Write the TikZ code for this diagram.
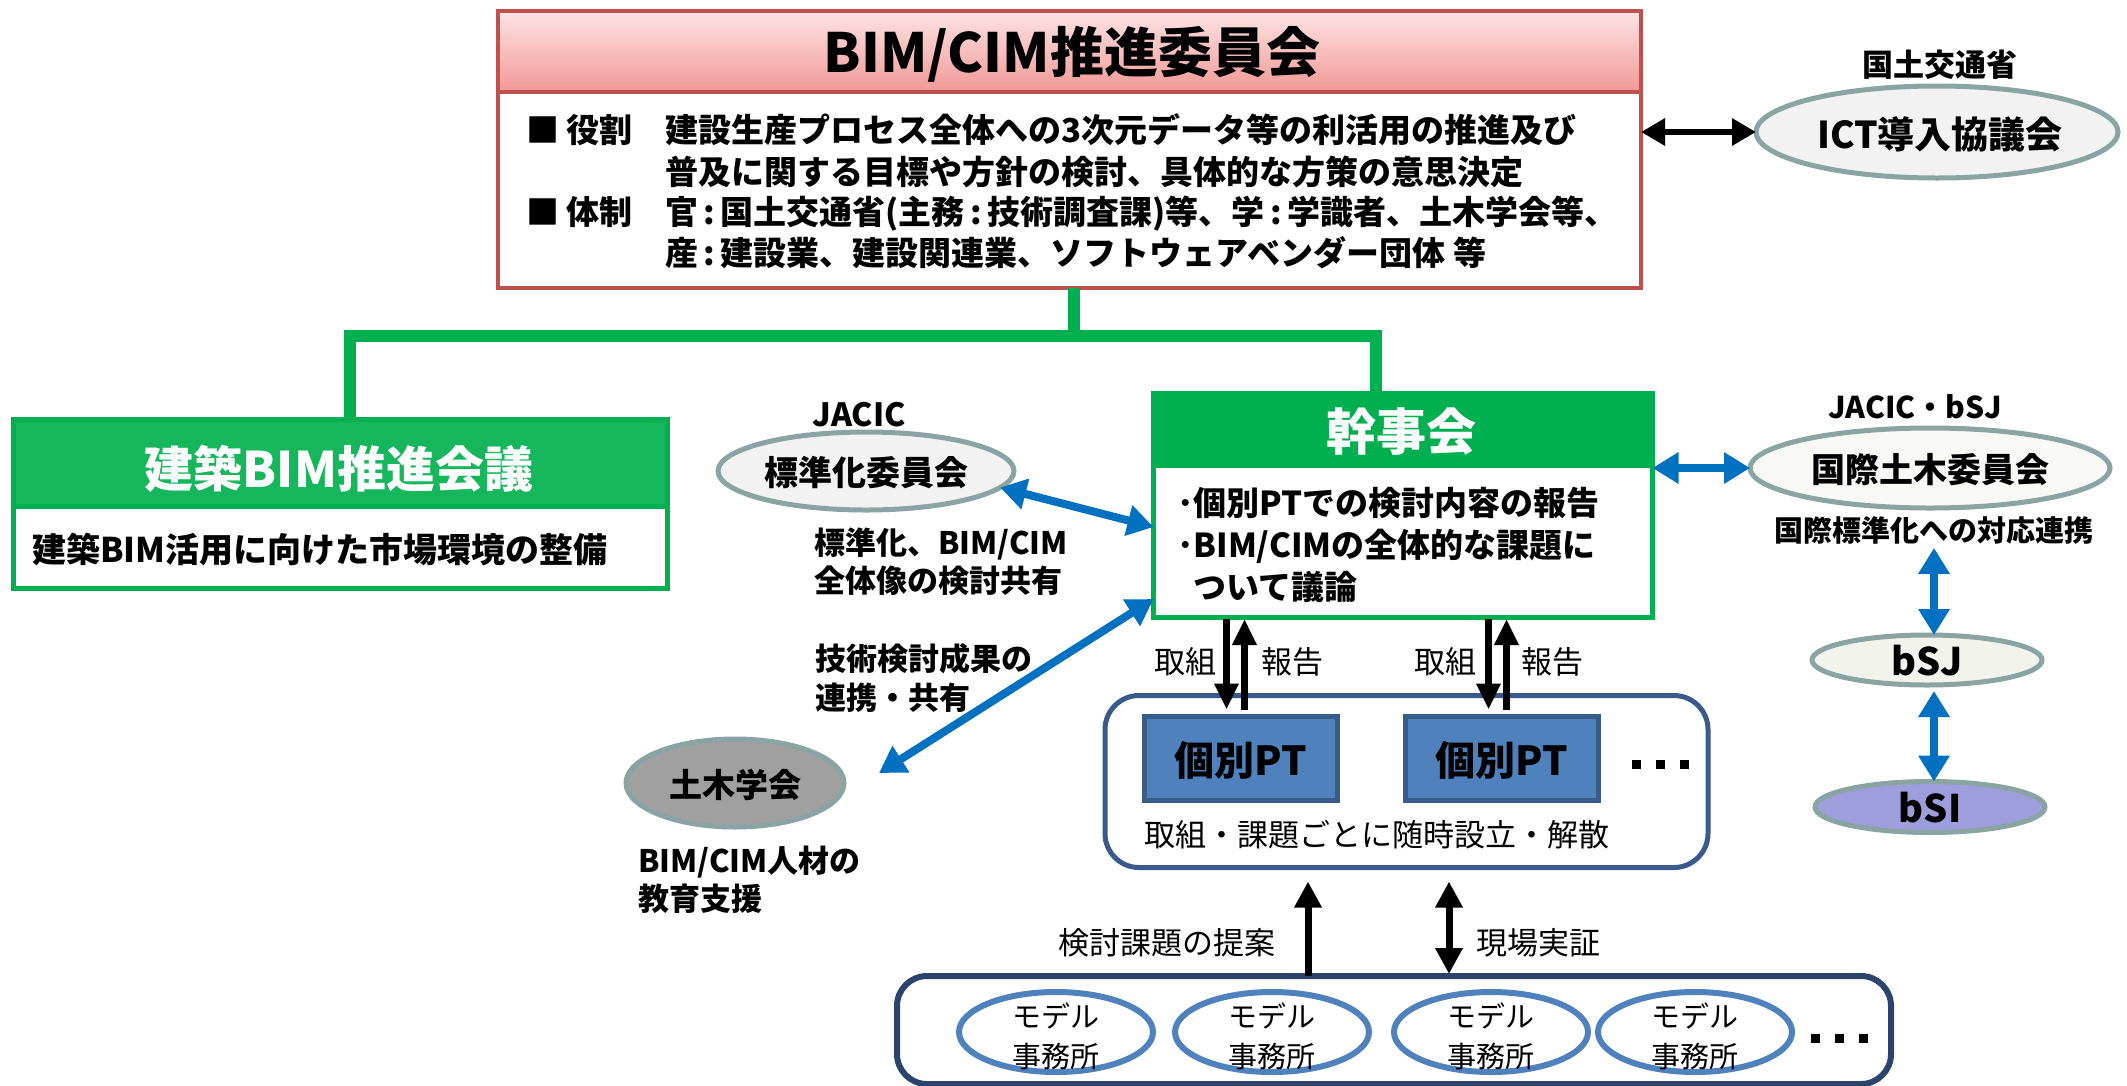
\documentclass[tikz,border=0pt]{standalone}
\usepackage{fontspec}
\setmainfont{Noto Sans CJK JP}
\usetikzlibrary{arrows.meta,shapes.geometric,calc}
\definecolor{cimred}{RGB}{192,80,77}
\definecolor{pinktop}{RGB}{253,228,228}
\definecolor{pinkbot}{RGB}{241,152,150}
\definecolor{grn}{RGB}{0,176,80}
\definecolor{grnfill}{RGB}{22,182,92}
\definecolor{ellgray}{RGB}{138,164,164}
\definecolor{ellfill}{RGB}{242,242,242}
\definecolor{kokfill}{RGB}{248,248,244}
\definecolor{bsjfill}{RGB}{243,243,237}
\definecolor{bsifill}{RGB}{158,158,220}
\definecolor{dobofill}{RGB}{160,160,160}
\definecolor{bluearr}{RGB}{0,112,192}
\definecolor{ptfill}{RGB}{79,129,189}
\definecolor{ptborder}{RGB}{56,93,138}
\definecolor{contborder}{RGB}{58,90,140}
\definecolor{navy}{RGB}{44,68,108}
\definecolor{modelblue}{RGB}{79,129,189}
\newcommand\fsz[2]{\fontsize{#1}{#2}\selectfont}
\begin{document}
\begin{tikzpicture}[x=1pt,y=-1pt,
  every node/.style={inner sep=0pt, outer sep=0pt},
  redbox/.style={rectangle, draw=cimred, line width=4pt},
  grnbox/.style={rectangle, draw=grn, line width=5pt},
  ell/.style={ellipse, draw=ellgray, line width=5pt},
  modell/.style={ellipse, draw=modelblue, line width=6pt, fill=white, minimum width=194pt, minimum height=80pt},
  grnline/.style={draw=grn, line width=12pt},
  blkdbl/.style={line width=6pt, arrows={Triangle[length=24pt,width=26pt]-Triangle[length=24pt,width=26pt]}},
  bluedbl/.style={draw=bluearr, line width=8pt, arrows={Triangle[length=26pt,width=30pt]-Triangle[length=26pt,width=30pt]}},
  blkv/.style={line width=7.5pt, arrows={-Triangle[length=26pt,width=23pt]}},
  blkup/.style={line width=7pt, arrows={-Triangle[length=26pt,width=26pt]}},
  blkupdbl/.style={line width=7pt, arrows={Triangle[length=26pt,width=26pt]-Triangle[length=26pt,width=26pt]}},
  tb/.style={font=\fsz{33}{40}\bfseries},
  lb/.style={font=\fsz{31}{38}\bfseries},
  rg/.style={font=\fsz{31}{38}},
  dotsq/.style={fill=black, minimum width=9pt, minimum height=9pt}
]
\useasboundingbox[fill=white] (0,0) rectangle (2127,1085);

% ---------- BIM/CIM committee ----------
\node[redbox, fill=white, minimum width=1143pt, minimum height=198pt] (cimb) at (1069.5,189) {};
\node[redbox, top color=pinktop, bottom color=pinkbot, minimum width=1143pt, minimum height=81pt] (cimh) at (1069.5,51.5) {};
\node[font=\fsz{54}{60}\bfseries] (cimt) at (1072,54) {BIM/CIM推進委員会};
\node[tb, anchor=base west] (role) at (526,142.5) {■\hspace{8pt}役割};
\node[tb, anchor=base west] (sys) at (526,224.5) {■\hspace{8pt}体制};
\node[tb, anchor=base west] (r1) at (665,142.5) {建設生産プロセス全体への3次元データ等の利活用の推進及び};
\node[tb, anchor=base west] (r2) at (665,184.5) {普及に関する目標や方針の検討、具体的な方策の意思決定};
\node[tb, anchor=base west] (r3) at (665,224.5) {官\,:\,国土交通省(主務\,:\,技術調査課)等、学\,:\,学識者、土木学会等、};
\node[tb, anchor=base west] (r4) at (665,265.5) {産\,:\,建設業、建設関連業、ソフトウェアベンダー団体 等};

% ---------- ICT ----------
\node[ell, fill=ellfill, minimum width=362pt, minimum height=92pt] (ict) at (1937,132) {};
\node[font=\fsz{37}{44}\bfseries] (ictt) at (1940,134) {ICT導入協議会};
\node[font=\fsz{31}{38}\bfseries] (mlit) at (1940,65) {国土交通省};
\draw[blkdbl] (cimb.east |- ict.west) -- (ict.west);

% ---------- green tree ----------
\node[grnbox, fill=grnfill, minimum width=654pt, minimum height=88pt] (kenh) at (340,463) {};
\node[grnbox, fill=white, minimum width=654pt, minimum height=82pt] (kenb) at (340,547) {};
\node[font=\fsz{49}{56}\bfseries, text=white] (kent) at (339,469) {建築BIM推進会議};
\node[font=\fsz{34}{40}\bfseries] (kenbt) at (320,549) {建築BIM活用に向けた市場環境の整備};

\node[grnbox, fill=white, minimum width=499pt, minimum height=152pt] (kanb) at (1403,541) {};
\node[grnbox, fill=grn, minimum width=499pt, minimum height=72pt] (kanh) at (1403,429) {};
\node[font=\fsz{50}{56}\bfseries, text=white] (kant) at (1401,432) {幹事会};
\node[tb, anchor=base west] (k1) at (1177,515.5) {･個別PTでの検討内容の報告};
\node[tb, anchor=base west] (k2) at (1177,557.5) {･BIM/CIMの全体的な課題に};
\node[tb, anchor=base west] (k3) at (1193,599.5) {ついて議論};

\coordinate (gj) at ($(cimb.south)+(4,48)$);
\draw[grnline] ([xshift=4pt]cimb.south) -- (gj);
\draw[grnline] ($(kenh.north)+(10,0)$) |- (gj) -| ($(kanh.north)+(-27,0)$);

% ---------- JACIC standardisation ----------
\node[ell, fill=ellfill, minimum width=296pt, minimum height=78pt] (hyo) at (866,471) {};
\node[font=\fsz{34}{40}\bfseries] (hyot) at (866,473) {標準化委員会};
\node[font=\fsz{32}{38}\bfseries] (jacic) at (859,415) {JACIC};
\draw[bluedbl] (hyo.-7) -- ($(kanb.west)+(0,-14)$);
\node[lb, anchor=base west] (s1) at (814,554) {標準化、BIM/CIM};
\node[lb, anchor=base west] (s2) at (814,592) {全体像の検討共有};

% ---------- JSCE ----------
\node[ell, fill=dobofill, minimum width=218pt, minimum height=88pt] (dobo) at (735,783) {};
\node[font=\fsz{33}{40}\bfseries] (dobot) at (735,785) {土木学会};
\coordinate (jsceend) at ($(dobo.east)+(35,-10)$);
\draw[bluedbl] (jsceend) -- ($(kanb.west)+(0,58)$);
\node[lb, anchor=base west] (t1) at (815,670) {技術検討成果の};
\node[lb, anchor=base west] (t2) at (815,709) {連携・共有};
\node[lb, anchor=base west] (e1) at (638,872) {BIM/CIM人材の};
\node[lb, anchor=base west] (e2) at (638,910) {教育支援};

% ---------- international ----------
\node[ell, fill=kokfill, minimum width=360pt, minimum height=80pt] (kok) at (1930,468) {};
\node[font=\fsz{34}{40}\bfseries] (kokt) at (1930,470) {国際土木委員会};
\node[font=\fsz{30}{36}\bfseries] (jbsj) at (1915,407) {JACIC・bSJ};
\node[font=\fsz{29}{36}\bfseries] (kokl) at (1934,530) {国際標準化への対応連携};
\draw[bluedbl] (kanh.south east |- kok.west) -- (kok.west);

\node[ell, fill=bsjfill, minimum width=230pt, minimum height=50pt] (bsj) at (1927,660) {};
\node[font=\fsz{38}{44}\bfseries] (bsjt) at (1927,661) {bSJ};
\node[ell, fill=bsifill, minimum width=230pt, minimum height=51pt] (bsi) at (1930,807) {};
\node[font=\fsz{38}{44}\bfseries] (bsit) at (1930,808) {bSI};
\coordinate (v1) at ($(kokl.south)+(0,4)$);
\draw[bluedbl] (v1) -- (v1 |- bsj.north);
\draw[bluedbl, shorten <=6pt] (v1 |- bsj.south) -- (v1 |- bsi.north);

% ---------- PT container ----------
\node[rectangle, rounded corners=34pt, draw=contborder, line width=5pt, fill=white, minimum width=603pt, minimum height=172pt] (ptc) at (1406.5,781.5) {};
\node[rectangle, draw=ptborder, fill=ptfill, line width=5pt, minimum width=193pt, minimum height=84pt] (pt1) at (1240.5,758) {};
\node[rectangle, draw=ptborder, fill=ptfill, line width=5pt, minimum width=193pt, minimum height=84pt] (pt2) at (1501.5,758) {};
\node[font=\fsz{40}{46}\bfseries] (pt1t) at (1240.5,760) {個別PT};
\node[font=\fsz{40}{46}\bfseries] (pt2t) at (1501.5,760) {個別PT};
\node[dotsq] (d1a) at (1636,764) {};
\node[dotsq] (d1b) at (1660,764) {};
\node[dotsq] (d1c) at (1684,764) {};
\node[font=\fsz{31}{38}] (ptl) at (1377,835) {取組・課題ごとに随時設立・解散};

\coordinate (pttop) at ($(ptc.north)+(0,14)$);
\coordinate (a1) at ($(kanb.south west)+(73,2)$);
\coordinate (b1) at ($(kanb.south west)+(91,2)$);
\coordinate (a2) at ($(kanb.south west)+(335,2)$);
\coordinate (b2) at ($(kanb.south west)+(353,2)$);
\draw[blkv] (a1) -- (a1 |- pttop);
\draw[blkv] (b1 |- pttop) -- (b1);
\draw[blkv] (a2) -- (a2 |- pttop);
\draw[blkv] (b2 |- pttop) -- (b2);
\node[rg] (tk1) at (1185,662) {取組};
\node[rg] (hk1) at (1292,662) {報告};
\node[rg] (tk2) at (1445,662) {取組};
\node[rg] (hk2) at (1552,662) {報告};

% ---------- model offices ----------
\node[rectangle, rounded corners=30pt, draw=navy, line width=6pt, fill=white, minimum width=994pt, minimum height=108pt] (bc) at (1394,1030) {};
\foreach \i/\x in {1/1056,2/1272,3/1491,4/1695}{
  \node[modell] (m\i) at (\x,1032) {};
  \node[font=\fsz{29}{40}, align=center] (mt\i) at (\x,1036) {モデル\\事務所};
}
\node[dotsq] (d2a) at (1815,1038) {};
\node[dotsq] (d2b) at (1839,1038) {};
\node[dotsq] (d2c) at (1863,1038) {};

\coordinate (u1) at ($(bc.north west)+(411,0)$);
\coordinate (u2) at ($(bc.north west)+(552,0)$);
\draw[blkup, shorten >=14pt] (u1) -- (u1 |- ptc.south);
\draw[blkupdbl, shorten >=14pt, shorten <=2pt] (u2) -- (u2 |- ptc.south);
\node[rg] (prop) at (1167,943) {検討課題の提案};
\node[rg] (gen) at (1538,943) {現場実証};
\end{tikzpicture}
\end{document}
